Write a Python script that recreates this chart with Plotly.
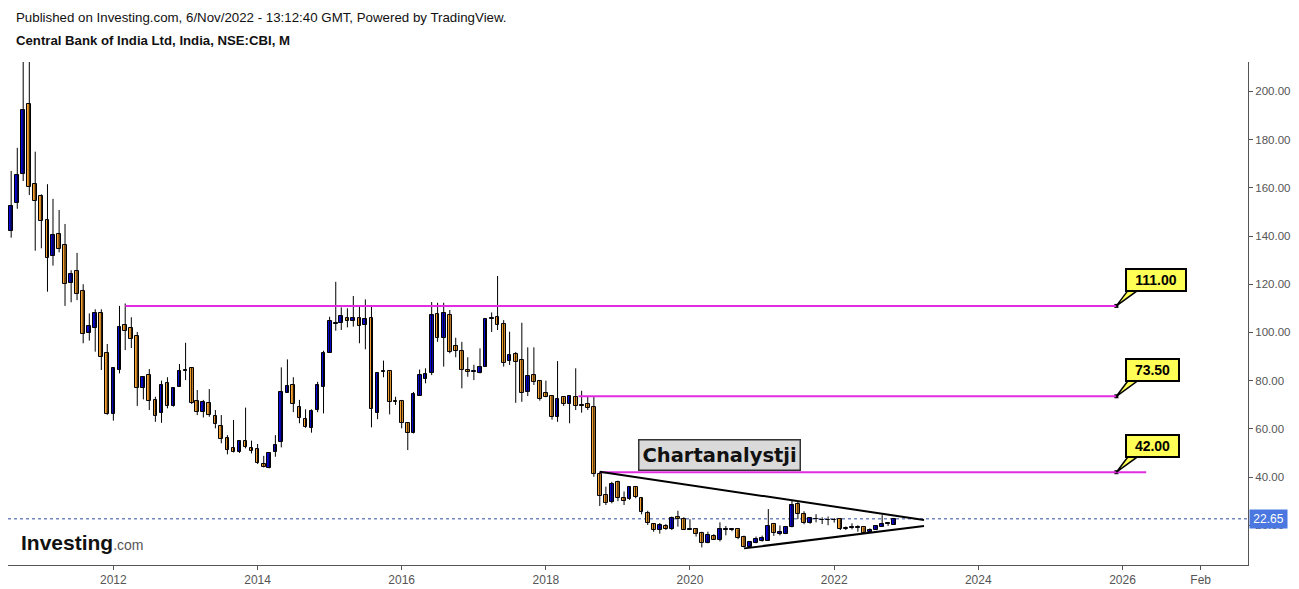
import pandas as pd
import plotly.graph_objects as go

# ---------------- data (monthly OHLC, Aug 2010 - Nov 2022) ----------------
months = pd.date_range("2010-08-01", periods=148, freq="MS").strftime("%Y-%m-%d").tolist()

opens = [142.2, 153.8, 165.6, 194.6, 161.5, 156.5, 146.6, 131.6, 140.7, 136.1,
         120.5, 125.4, 117.0, 99.9, 101.7, 107.9, 91.3, 66.0, 84.4, 103.0,
         101.7, 98.5, 76.8, 82.2, 72.0, 66.7, 78.9, 69.6, 77.5, 84.1,
         85.1, 71.5, 66.8, 70.6, 65.3, 61.0, 56.1, 51.9, 50.2, 54.8,
         51.9, 51.5, 45.4, 43.6, 50.2, 54.6, 75.0, 78.0, 69.0, 63.9,
         60.4, 67.7, 77.5, 91.6, 103.4, 103.8, 105.8, 104.6, 105.8, 102.9,
         105.8, 66.7, 83.5, 83.9, 71.4, 71.5, 62.5, 58.1, 73.7, 80.8,
         83.0, 107.6, 97.8, 107.1, 94.4, 92.3, 84.4, 83.5, 83.0, 85.8,
         105.7, 106.5, 103.4, 88.3, 90.9, 88.5, 75.4, 82.2, 80.0, 74.7,
         73.6, 64.8, 73.1, 70.2, 73.3, 69.5, 70.3, 68.9, 41.1, 32.5,
         29.5, 37.8, 31.4, 30.7, 36.0, 31.4, 25.2, 20.5, 18.0, 19.7,
         18.3, 23.3, 22.5, 18.2, 18.5, 16.6, 12.5, 15.5, 13.9, 18.2,
         18.2, 18.3, 15.0, 11.1, 12.7, 13.6, 13.6, 20.4, 16.3, 16.3,
         19.4, 28.8, 24.6, 20.8, 22.4, 22.0, 22.0, 22.0, 22.5, 18.9,
         19.0, 19.0, 19.1, 17.3, 18.0, 19.4, 20.4, 20.1]
highs = [167.0, 176.6, 215.0, 215.0, 175.0, 157.3, 161.5, 155.4, 150.8, 145.0,
         125.8, 133.0, 120.0, 107.9, 109.6, 109.6, 95.2, 85.5, 111.0, 112.0,
         106.3, 100.2, 81.8, 84.8, 73.3, 80.0, 81.4, 77.2, 86.9, 95.7,
         85.3, 76.1, 72.0, 76.5, 67.8, 65.7, 57.4, 63.7, 54.8, 68.8,
         55.1, 53.7, 48.8, 49.8, 57.4, 85.5, 88.8, 81.4, 72.0, 68.1,
         68.1, 79.5, 92.4, 106.5, 121.0, 110.4, 110.0, 115.1, 110.7, 113.7,
         111.0, 83.0, 88.3, 83.9, 73.3, 72.0, 62.5, 75.3, 84.6, 85.1,
         112.6, 112.3, 112.3, 109.3, 97.8, 96.1, 89.7, 86.6, 93.4, 105.4,
         108.3, 123.4, 105.1, 100.3, 91.9, 104.0, 93.8, 93.8, 80.0, 80.0,
         73.6, 88.1, 73.1, 73.5, 85.1, 75.8, 73.3, 73.3, 42.2, 36.0,
         38.0, 38.5, 34.0, 36.0, 36.3, 31.4, 26.0, 20.9, 20.9, 20.5,
         23.6, 26.0, 23.3, 22.5, 18.5, 17.3, 17.3, 16.3, 21.2, 19.7,
         18.7, 18.3, 15.7, 13.5, 15.3, 15.7, 26.7, 20.4, 19.9, 19.7,
         30.2, 29.7, 25.8, 23.3, 24.6, 23.3, 23.6, 23.0, 22.5, 19.5,
         20.8, 20.0, 19.1, 18.7, 20.1, 24.2, 21.2, 22.9]
lows = [139.3, 151.3, 162.8, 157.0, 133.9, 134.9, 116.9, 127.7, 133.2, 111.0,
        112.5, 113.4, 95.5, 96.6, 92.0, 84.4, 65.8, 63.4, 83.0, 92.7,
        93.5, 69.5, 72.2, 67.8, 62.9, 62.5, 68.5, 69.2, 77.5, 80.2,
        70.3, 65.7, 64.7, 65.0, 60.2, 54.0, 49.4, 50.2, 50.0, 51.9,
        49.8, 45.4, 44.0, 43.6, 48.4, 52.3, 75.0, 66.9, 62.3, 60.4,
        58.4, 66.9, 66.4, 91.6, 100.7, 101.0, 102.1, 102.4, 95.5, 93.0,
        60.6, 64.0, 81.4, 66.0, 69.9, 60.2, 51.2, 58.1, 73.7, 78.9,
        82.3, 96.1, 85.8, 91.3, 89.7, 76.8, 81.6, 80.2, 83.0, 85.8,
        100.2, 101.0, 85.8, 86.5, 70.8, 71.2, 73.6, 78.2, 71.7, 73.1,
        63.8, 62.9, 69.5, 62.3, 67.8, 66.7, 67.8, 40.1, 28.0, 28.4,
        29.1, 30.0, 28.4, 30.5, 31.2, 24.5, 20.1, 17.3, 16.5, 18.0,
        18.0, 19.4, 18.0, 18.0, 15.3, 10.8, 12.5, 13.9, 13.3, 15.8,
        17.5, 14.2, 10.8, 11.1, 12.5, 13.2, 13.6, 15.6, 15.8, 16.3,
        19.1, 22.5, 20.4, 20.6, 21.2, 20.5, 20.0, 21.1, 18.0, 18.0,
        18.3, 17.3, 16.5, 16.9, 18.0, 19.4, 19.7, 20.1]
closes = [152.4, 165.3, 192.3, 160.2, 154.6, 146.1, 130.7, 140.3, 134.5, 120.0,
          124.2, 116.1, 99.3, 102.7, 107.9, 89.7, 66.0, 85.1, 102.1, 100.7,
          97.4, 76.8, 81.6, 71.7, 65.4, 78.0, 69.5, 76.9, 84.0, 84.3,
          70.8, 66.8, 71.0, 65.6, 61.9, 55.9, 51.1, 50.2, 54.8, 52.3,
          50.9, 45.7, 44.0, 49.8, 53.1, 75.1, 77.8, 70.2, 64.3, 60.9,
          67.4, 78.0, 91.5, 104.6, 103.6, 106.8, 104.6, 105.8, 102.7, 105.4,
          68.1, 83.0, 83.7, 71.0, 71.0, 62.3, 58.4, 74.4, 82.2, 82.7,
          107.1, 97.8, 107.9, 91.7, 92.4, 84.4, 83.4, 83.7, 85.5, 105.4,
          105.9, 103.1, 87.2, 90.5, 87.8, 74.7, 81.9, 79.5, 72.2, 73.1,
          65.0, 72.2, 70.3, 73.5, 69.5, 69.7, 68.5, 41.1, 32.2, 29.1,
          37.0, 31.2, 30.0, 35.7, 31.8, 25.6, 20.8, 18.0, 20.0, 18.3,
          22.9, 22.5, 18.0, 18.4, 16.3, 12.7, 15.8, 13.9, 18.3, 18.4,
          18.4, 14.6, 11.1, 12.9, 14.3, 14.6, 19.7, 16.6, 17.3, 19.4,
          28.4, 24.6, 20.8, 22.9, 22.6, 22.2, 22.2, 22.2, 18.3, 18.3,
          19.2, 19.2, 16.9, 18.0, 19.7, 20.5, 20.6, 22.65]

last_price = 22.65

# horizontal levels (value, start, end, label)
level_values = [111.0, 73.5, 42.0]
level_starts = ["2012-03-01", "2018-06-15", "2018-10-01"]
level_ends = ["2025-12-01", "2025-12-01", "2026-05-01"]
level_labels = ["111.00", "73.50", "42.00"]
callout_date = "2025-12-01"

# triangle trend lines
upper_trend_x = ["2018-10-01", "2023-04-01"]
upper_trend_y = [42.2, 22.2]
lower_trend_x = ["2020-10-01", "2023-04-01"]
lower_trend_y = [10.4, 19.7]

y_ticks = [20, 40, 60, 80, 100, 120, 140, 160, 180, 200]
x_tickvals = ["2012-01-01", "2014-01-01", "2016-01-01", "2018-01-01", "2020-01-01",
              "2022-01-01", "2024-01-01", "2026-01-01", "2027-02-01"]
x_ticktext = ["2012", "2014", "2016", "2018", "2020", "2022", "2024", "2026", "Feb"]

BLUE = "#0808D8"
ORANGE = "#F8A030"
MAGENTA = "#E02DE0"
AXIS = "#555555"
DAY_MS = 86400000

fig = go.Figure()

# wicks
wx, wy = [], []
for d, h, l in zip(months, highs, lows):
    wx += [d, d, None]
    wy += [l, h, None]
fig.add_trace(go.Scatter(x=wx, y=wy, mode="lines", line=dict(color="black", width=1),
                         showlegend=False, hoverinfo="skip"))

# bodies
base = [min(o, c) for o, c in zip(opens, closes)]
height = [max(abs(c - o), 0.35) for o, c in zip(opens, closes)]
colors = [BLUE if c >= o else ORANGE for o, c in zip(opens, closes)]
fig.add_trace(go.Bar(x=months, y=height, base=base, width=[19 * DAY_MS] * len(months),
                     marker=dict(color=colors, line=dict(color="black", width=1)),
                     showlegend=False, hoverinfo="skip"))

shapes = []
# last-price dotted line
shapes.append(dict(type="line", xref="paper", x0=0, x1=1, yref="y", y0=last_price, y1=last_price,
                   line=dict(color="#2E4C9E", width=1, dash="dot"), layer="below"))
# level lines
for v, s, e in zip(level_values, level_starts, level_ends):
    shapes.append(dict(type="line", xref="x", yref="y", x0=s, x1=e, y0=v, y1=v,
                       line=dict(color=MAGENTA, width=2)))
# trend lines
shapes.append(dict(type="line", xref="x", yref="y", x0=upper_trend_x[0], x1=upper_trend_x[1],
                   y0=upper_trend_y[0], y1=upper_trend_y[1], line=dict(color="black", width=2)))
shapes.append(dict(type="line", xref="x", yref="y", x0=lower_trend_x[0], x1=lower_trend_x[1],
                   y0=lower_trend_y[0], y1=lower_trend_y[1], line=dict(color="black", width=2)))
# callout wedges
for v in level_values:
    shapes.append(dict(type="path", xref="x", yref="y", xsizemode="pixel", ysizemode="pixel",
                       xanchor=callout_date, yanchor=v,
                       path="M 0 0 L 12 16 L 22 16 Z",
                       fillcolor="#FFFF55", line=dict(color="black", width=1.5)))
fig.update_layout(shapes=shapes)

# anchor dots
fig.add_trace(go.Scatter(x=[callout_date] * 3, y=level_values, mode="markers",
                         marker=dict(symbol="square", size=4, color="black"),
                         showlegend=False, hoverinfo="skip"))

annotations = []
for v, lab in zip(level_values, level_labels):
    w = 56 if len(lab) == 6 else 49
    annotations.append(dict(x=callout_date, y=v, xref="x", yref="y", text="<b>%s</b>" % lab,
                            showarrow=False, xanchor="left", yanchor="middle",
                            xshift=9, yshift=26, width=w, height=18, align="center",
                            bgcolor="#FFFF55", bordercolor="black", borderwidth=2, borderpad=1,
                            font=dict(family="Liberation Sans, Arial", size=14, color="black")))

annotations.append(dict(x="2020-06-01", y=49.2, xref="x", yref="y", text="<b>Chartanalystji</b>",
                        showarrow=False, xanchor="center", yanchor="middle",
                        bgcolor="#DADADA", bordercolor="#333333", borderwidth=1.5, borderpad=3,
                        font=dict(family="DejaVu Sans", size=19.5, color="#111111")))

# price label on axis
annotations.append(dict(x=1, y=last_price, xref="paper", yref="y", text="22.65",
                        showarrow=False, xanchor="left", yanchor="middle", xshift=1,
                        bgcolor="#4A78E0", borderpad=2, width=33,
                        font=dict(family="Liberation Sans, Arial", size=12, color="white")))

fig.update_layout(annotations=annotations)

W, H = 1299, 589
L, R, T, B = 8, 51, 62, 24
pw, ph = W - L - R, H - T - B


def px(xp):
    return (xp - L) / pw


def py(yp):
    return (H - B - yp) / ph


fig.add_annotation(x=px(14), y=py(17), xref="paper", yref="paper", showarrow=False,
                   xanchor="left", yanchor="middle",
                   text="Published on Investing.com, 6/Nov/2022 - 13:12:40 GMT, Powered by TradingView.",
                   font=dict(family="Liberation Sans, Arial", size=13.3, color="#111111"))
fig.add_annotation(x=px(14), y=py(40), xref="paper", yref="paper", showarrow=False,
                   xanchor="left", yanchor="middle",
                   text="<b>Central Bank of India Ltd, India, NSE:CBI, M</b>",
                   font=dict(family="Liberation Sans, Arial", size=13.2, color="#111111"))
fig.add_annotation(x=px(19), y=py(542), xref="paper", yref="paper", showarrow=False,
                   xanchor="left", yanchor="middle",
                   text="<b>Investing</b><span style='font-size:14px;color:#555555'>.com</span>",
                   font=dict(family="Liberation Sans, Arial", size=21, color="#111111"))

fig.update_layout(
    width=W, height=H,
    margin=dict(l=L, r=R, t=T, b=B),
    paper_bgcolor="white", plot_bgcolor="white",
    showlegend=False, bargap=0,
    xaxis=dict(type="date", range=["2010-07-16", "2027-09-29"], automargin=False,
               tickvals=x_tickvals, ticktext=x_ticktext, ticks="outside", ticklen=4,
               tickcolor=AXIS, showline=True, linecolor=AXIS, linewidth=1, showgrid=False,
               zeroline=False, tickfont=dict(family="Liberation Sans, Arial", size=12, color=AXIS)),
    yaxis=dict(side="right", range=[3.5, 212.2], tickvals=y_ticks, automargin=False,
               ticktext=["%.2f" % t for t in y_ticks], ticks="outside", ticklen=4,
               tickcolor=AXIS, showline=True, linecolor=AXIS, linewidth=1, showgrid=False,
               zeroline=False, tickfont=dict(family="Liberation Sans, Arial", size=11.5, color=AXIS)),
)

fig.write_html("out.html")
